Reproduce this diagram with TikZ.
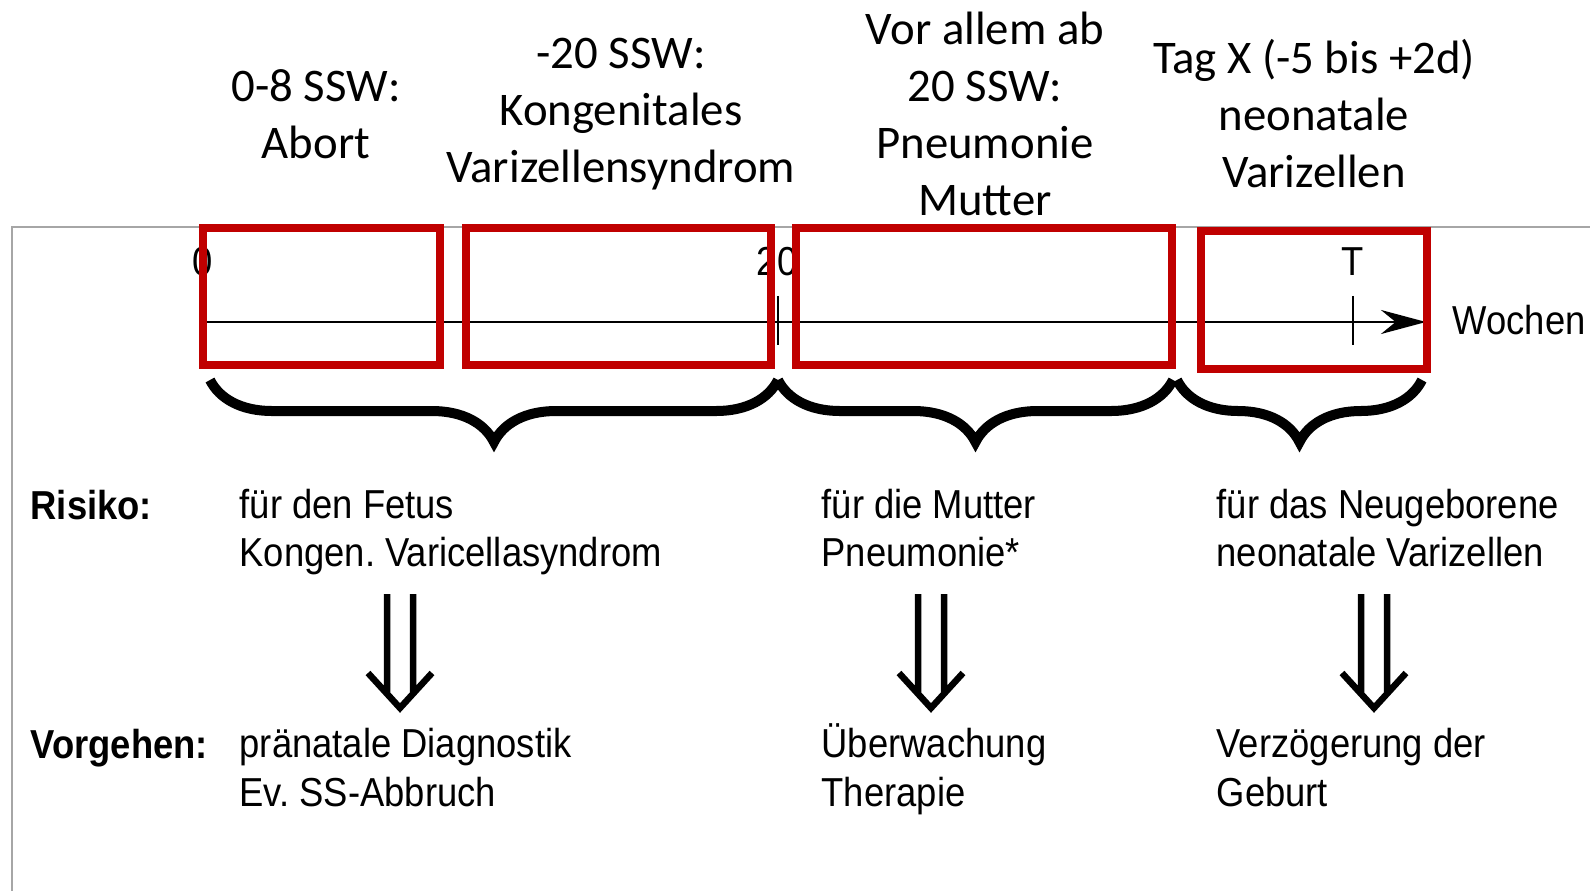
\documentclass[tikz,border=0pt]{standalone}
\usepackage{fontspec}
\setmainfont{Carlito}
\newfontfamily\helv[FakeStretch=0.9]{Liberation Sans}
\usetikzlibrary{arrows.meta,decorations.pathreplacing}
\definecolor{rahmenrot}{RGB}{192,0,0}
\frenchspacing

\begin{document}
\begin{tikzpicture}[x=0.01cm,y=-0.01cm,
    kopf/.style={align=center, font=\fontsize{13.3}{16.2}\selectfont},
    txt/.style={anchor=base west, align=left, inner sep=0pt, font=\helv\fontsize{11.5}{13.8}\selectfont},
    fett/.style={txt, font=\helv\bfseries\fontsize{11.5}{13.8}\selectfont}]
    \tikzset{achse/.style = {font=\helv\fontsize{11.5}{13.8}\selectfont, inner sep=0pt}}
    \tikzset{rotbox/.style = {draw=rahmenrot, line width=0.08cm}}
    \tikzset{klammer/.style = {decorate, decoration={brace, mirror, amplitude=0.62cm}, line width=0.1cm}}
    \tikzset{folgt/.style = {line width=0.065cm}}

    \useasboundingbox (0,0) rectangle (1590,891);

    % Rahmen der Abbildung
    \draw[gray!70, line width=0.02cm] (1590,227) -- (12,227) -- (12,891);

    \node[kopf] (abort) at (316,114) {0-8 SSW:\\Abort};
    \node[kopf] (kongenital) at (621,114) {-20 SSW:\\Kongenitales\\Varizellensyndrom};
    \node[kopf] (pneumonie) at (985,114) {Vor allem ab\\20 SSW:\\Pneumonie\\Mutter};
    \node[kopf] (tagx) at (1314,114) {Tag X (-5 bis +2d)\\neonatale\\Varizellen};

    % Zeitachse
    \node[achse] (null) at (203,262) {0};
    \node[achse] (zwanzig) at (777,262) {20};
    \node[achse] (termin) at (1353,262) {T};
    \node[achse, anchor=west] (wochen) at (1452,320) {Wochen};
    \coordinate (start) at (203,322);
    \coordinate (ende) at (1426,322);
    \draw[line width=0.025cm, -{Stealth[length=0.45cm, width=0.24cm]}] (start) -- (ende);
    \draw[line width=0.015cm] (778,296) -- (778,345);
    \draw[line width=0.015cm] (1353,296) -- (1353,345);

    \draw[rotbox] (203,228) rectangle (440,365);
    \draw[rotbox] (466,228) rectangle (771,365);
    \draw[rotbox] (796,228) rectangle (1172,365);
    \draw[rotbox] (1201,231) rectangle (1427,369);

    \draw[klammer] (210,380) -- (778,380);
    \draw[klammer] (778,380) -- (1173,380);
    \draw[klammer] (1177,380) -- (1422,380);

    % mehrzeilige Knoten: Grundlinie der letzten Zeile
    \node[fett] (risiko) at (30,519) {Risiko:};
    \node[txt] (fetus) at (239,567) {für den Fetus\\Kongen. Varicellasyndrom};
    \node[txt] (mutter) at (821,567) {für die Mutter\\Pneumonie*};
    \node[txt] (neugeboren) at (1216,567) {für das Neugeborene\\neonatale Varizellen};

    \node[fett] (vorgehen) at (30,758) {Vorgehen:};
    \node[txt] (diagnostik) at (239,806) {pränatale Diagnostik\\Ev. SS-Abbruch};
    \node[txt] (therapie) at (821,806) {Überwachung\\Therapie};
    \node[txt] (geburt) at (1216,806) {Verzögerung der\\Geburt};

    \coordinate (pfeilA) at (400,594);
    \coordinate (pfeilB) at (931,594);
    \coordinate (pfeilC) at (1374,594);
    \draw[folgt] (pfeilA) ++(-13,0) -- ++(0,100) (pfeilA) ++(13,0) -- ++(0,100)
        (pfeilA) ++(-32,79) -- ++(32,35) -- ++(32,-35);
    \draw[folgt] (pfeilB) ++(-13,0) -- ++(0,100) (pfeilB) ++(13,0) -- ++(0,100)
        (pfeilB) ++(-32,79) -- ++(32,35) -- ++(32,-35);
    \draw[folgt] (pfeilC) ++(-13,0) -- ++(0,100) (pfeilC) ++(13,0) -- ++(0,100)
        (pfeilC) ++(-32,79) -- ++(32,35) -- ++(32,-35);
\end{tikzpicture}
\end{document}
